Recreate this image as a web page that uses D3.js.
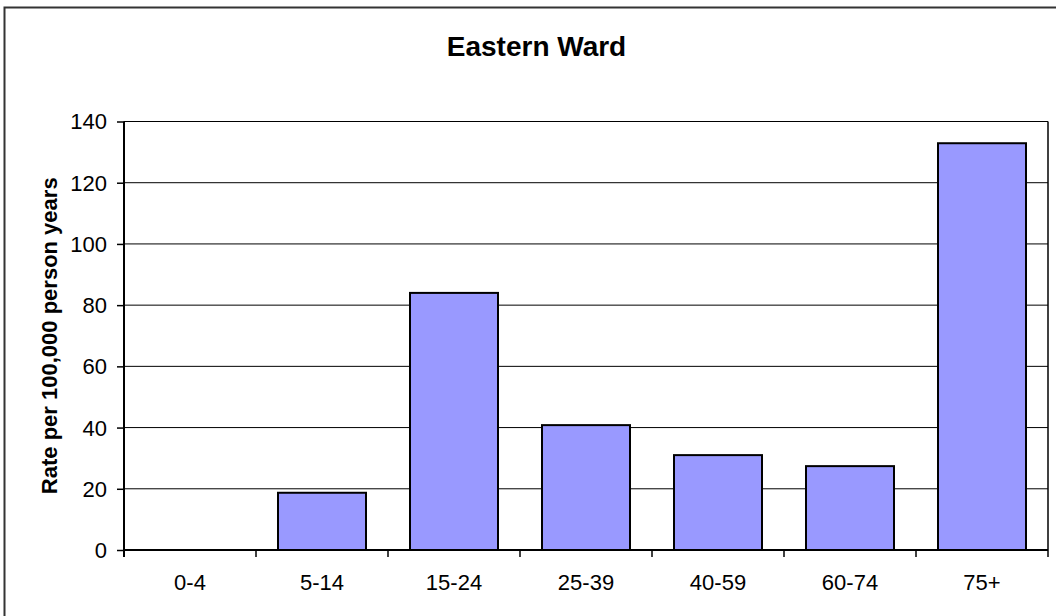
<!DOCTYPE html>
<html>
<head>
<meta charset="utf-8">
<script src="https://cdn.jsdelivr.net/npm/d3@7"></script>
<style>
  html, body { margin: 0; padding: 0; background: #fff; }
  svg { display: block; }
  text { font-family: "Liberation Sans", Arial, sans-serif; fill: #000; }
</style>
</head>
<body>
<svg id="chart" width="1056" height="616"></svg>
<script>
// Incidence rate by age group
const categories = ["0-4", "5-14", "15-24", "25-39", "40-59", "60-74", "75+"];
const rates = [0, 18.7, 84.0, 40.8, 31.0, 27.4, 132.9];
const yTicks = [0, 20, 40, 60, 80, 100, 120, 140];
const titleText = "Eastern Ward";
const yTitleText = "Rate per 100,000 person years";

const svg = d3.select("#chart");

const plot = { left: 124, right: 1048, top: 121.5, bottom: 550 };

// Chart frame (left and top edges within the view)
svg.append("path")
  .attr("d", `M4.5,616 V7.5 H1056`)
  .attr("fill", "none")
  .attr("stroke", "#333")
  .attr("stroke-width", 2);

const y = d3.scaleLinear().domain([0, 140]).range([plot.bottom, plot.top]);

// Category slots (for tick marks and labels)
const xCat = d3.scaleBand().domain(categories).range([plot.left, plot.right]).padding(0);
// Bars take two thirds of each slot
const xBar = d3.scaleBand().domain(categories).range([plot.left, plot.right])
  .paddingInner(1 / 3).paddingOuter(1 / 6);

// Horizontal gridlines
svg.append("g")
  .selectAll("line")
  .data(yTicks.filter(d => d > 0))
  .join("line")
  .attr("x1", plot.left).attr("x2", plot.right)
  .attr("y1", d => y(d)).attr("y2", d => y(d))
  .attr("stroke", "#000").attr("stroke-width", 1);

// Right edge of plot area
svg.append("line")
  .attr("x1", plot.right).attr("x2", plot.right)
  .attr("y1", plot.top).attr("y2", plot.bottom)
  .attr("stroke", "#000").attr("stroke-width", 1.5);

// Bars
svg.append("g")
  .selectAll("rect")
  .data(categories.map((c, i) => ({ c, v: rates[i] })).filter(d => d.v > 0))
  .join("rect")
  .attr("x", d => xBar(d.c))
  .attr("y", d => y(d.v))
  .attr("width", xBar.bandwidth())
  .attr("height", d => y(0) - y(d.v))
  .attr("fill", "#9999ff")
  .attr("stroke", "#000")
  .attr("stroke-width", 2);

// Y axis
const yAxis = d3.axisLeft(y).tickValues(yTicks).tickSize(7).tickPadding(10);
const gy = svg.append("g").attr("transform", `translate(${plot.left},0)`).call(yAxis);
gy.select(".domain").attr("stroke", "#000").attr("stroke-width", 2)
  .attr("d", `M0,${plot.top}V${plot.bottom + 7}`);
gy.selectAll(".tick line").attr("stroke", "#000").attr("stroke-width", 1.5);
gy.selectAll(".tick text")
  .attr("font-size", 22)
  .attr("font-family", "'Liberation Sans', Arial, sans-serif")
  .attr("fill", "#000")
  .attr("dy", "0.34em");

// X axis: ticks at slot boundaries, labels centered in slots
const boundaries = categories.map(c => xCat(c)).concat([plot.right]);
const gx = svg.append("g");
gx.append("line")
  .attr("x1", plot.left).attr("x2", plot.right)
  .attr("y1", plot.bottom).attr("y2", plot.bottom)
  .attr("stroke", "#000").attr("stroke-width", 2);
gx.selectAll("line.tick")
  .data(boundaries)
  .join("line")
  .attr("class", "tick")
  .attr("x1", d => d).attr("x2", d => d)
  .attr("y1", plot.bottom).attr("y2", plot.bottom + 7)
  .attr("stroke", "#000").attr("stroke-width", 1.5);
gx.selectAll("text")
  .data(categories)
  .join("text")
  .attr("x", d => xCat(d) + xCat.bandwidth() / 2)
  .attr("y", 590)
  .attr("text-anchor", "middle")
  .attr("font-size", 22)
  .text(d => d);

// Title
svg.append("text")
  .attr("x", 536.5)
  .attr("y", 56)
  .attr("text-anchor", "middle")
  .attr("font-size", 28)
  .attr("font-weight", "bold")
  .text(titleText);

// Y axis title
svg.append("text")
  .attr("transform", `translate(56.5,${(plot.top + plot.bottom) / 2}) rotate(-90)`)
  .attr("text-anchor", "middle")
  .attr("font-size", 22)
  .attr("font-weight", "bold")
  .text(yTitleText);
</script>
</body>
</html>
